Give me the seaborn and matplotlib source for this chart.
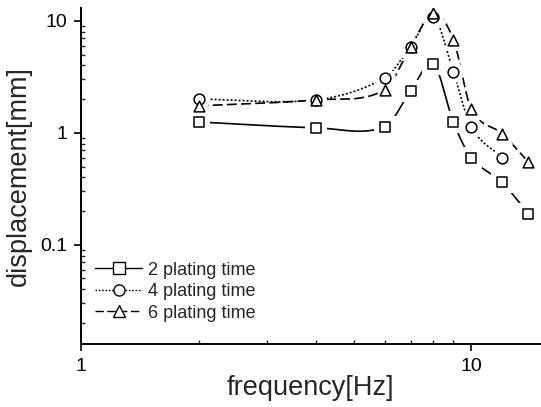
import numpy as np
import pandas as pd
import matplotlib
matplotlib.use("Agg")
import matplotlib.pyplot as plt
from matplotlib.lines import Line2D
from matplotlib.ticker import LogLocator, NullFormatter, FixedFormatter, FixedLocator
import seaborn as sns

# measured displacement vs. excitation frequency
freq_a = [2, 4, 6, 7, 8, 9, 10, 12, 14]
disp_2 = [1.25, 1.11, 1.13, 2.37, 4.13, 1.25, 0.60, 0.36, 0.19]
freq_b = [2, 4, 6, 7, 8, 9, 10, 12]
disp_4 = [2.0, 1.97, 3.1, 5.9, 10.9, 3.5, 1.13, 0.60]
freq_c = [2, 4, 6, 7, 8, 9, 10, 12, 14]
disp_6 = [1.74, 1.97, 2.42, 5.9, 11.8, 6.8, 1.64, 0.98, 0.55]
labels = ["2 plating time", "4 plating time", "6 plating time"]

series = [(freq_a, disp_2, "s", "-"),
          (freq_b, disp_4, "o", (0, (1.2, 1.2))),
          (freq_c, disp_6, "^", (0, (6, 2.5)))]


def smooth_curve(x, y, n=40):
    """Catmull-Rom style Hermite curve through (x, y), log-log space."""
    x = np.log10(np.asarray(x, float))
    y = np.log10(np.asarray(y, float))
    k = len(x)
    m = np.zeros(k)
    m[0] = (y[1] - y[0]) / (x[1] - x[0])
    m[-1] = (y[-1] - y[-2]) / (x[-1] - x[-2])
    for i in range(1, k - 1):
        m[i] = (y[i + 1] - y[i - 1]) / (x[i + 1] - x[i - 1])
    xs, ys = [], []
    for i in range(k - 1):
        h = x[i + 1] - x[i]
        t = np.linspace(0, 1, n, endpoint=(i == k - 2))
        h00 = 2 * t**3 - 3 * t**2 + 1
        h10 = t**3 - 2 * t**2 + t
        h01 = -2 * t**3 + 3 * t**2
        h11 = t**3 - t**2
        xs.append(x[i] + t * h)
        ys.append(h00 * y[i] + h10 * h * m[i] + h01 * y[i + 1] + h11 * h * m[i + 1])
    return 10 ** np.concatenate(xs), 10 ** np.concatenate(ys)


sns.set_style("ticks")
plt.rcParams["font.family"] = ["Liberation Sans", "DejaVu Sans"]

fig = plt.figure(figsize=(5.41, 4.07), dpi=100)
ax = fig.add_axes([0.150, 0.155, 0.848, 0.825])

for (fx, fy, mk, ls), lab in zip(series, labels):
    lx, ly = smooth_curve(fx, fy)
    curve = pd.DataFrame({"f": lx, "d": ly})
    sns.lineplot(data=curve, x="f", y="d", ax=ax, color="black",
                 linestyle=ls, linewidth=1.2, sort=False, estimator=None)
    pts = pd.DataFrame({"f": fx, "d": fy})
    # white halo so the curve stops short of each symbol
    sns.scatterplot(data=pts, x="f", y="d", ax=ax, marker=mk, s=230,
                    color="white", edgecolor="white", linewidth=0, zorder=4)
    sns.scatterplot(data=pts, x="f", y="d", ax=ax, marker=mk, s=60,
                    facecolor="white", edgecolor="black", linewidth=1.1,
                    zorder=5)

ax.set_xscale("log")
ax.set_yscale("log")
ax.set_xlim(1, 15)
ax.set_ylim(0.013, 13)

ax.xaxis.set_major_locator(FixedLocator([1, 10]))
ax.xaxis.set_major_formatter(FixedFormatter(["1", "10"]))
ax.xaxis.set_minor_locator(LogLocator(base=10, subs=np.arange(2, 10)))
ax.xaxis.set_minor_formatter(NullFormatter())
ax.yaxis.set_major_locator(FixedLocator([0.1, 1, 10]))
ax.yaxis.set_major_formatter(FixedFormatter(["0.1", "1", "10"]))
ax.yaxis.set_minor_locator(LogLocator(base=10, subs=np.arange(2, 10)))
ax.yaxis.set_minor_formatter(NullFormatter())

ax.tick_params(which="major", direction="out", length=5, width=1.2,
               labelsize=14, colors="black", pad=5)
ax.tick_params(which="minor", direction="in", length=3, width=1.0)

for side in ("top", "right"):
    ax.spines[side].set_visible(False)
for side in ("left", "bottom"):
    ax.spines[side].set_linewidth(1.4)
    ax.spines[side].set_color("black")

ax.set_xlabel("frequency[Hz]", fontsize=19.5, labelpad=0)
ax.set_ylabel("displacement[mm]", fontsize=19.5, labelpad=6)

handles = [Line2D([], [], color="black", linestyle=ls, linewidth=1.0,
                  marker=mk, markersize=8, markerfacecolor="white",
                  markeredgecolor="black")
           for (_, _, mk, ls) in series]
ax.legend(handles, labels, loc="lower left", bbox_to_anchor=(0.015, 0.045),
          frameon=False, fontsize=13, handlelength=2.6, handletextpad=0.3,
          labelspacing=0.25, borderaxespad=0)

fig.savefig("out.png", dpi=100)
